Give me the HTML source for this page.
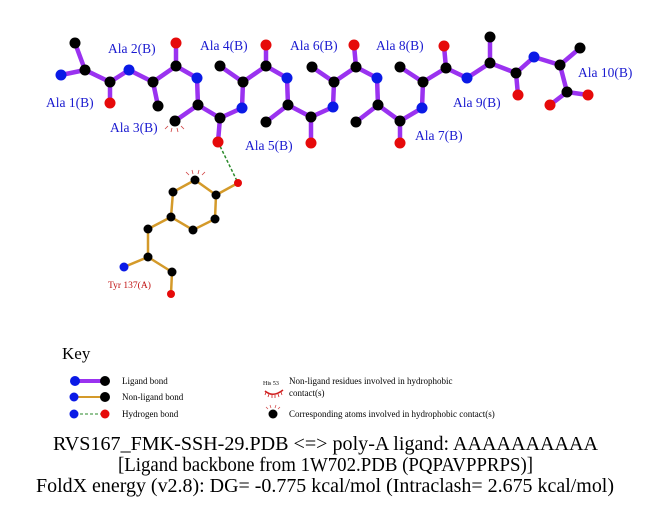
<!DOCTYPE html>
<html><head><meta charset="utf-8"><style>
body{margin:0;background:#fff;width:651px;height:511px;overflow:hidden}
svg{display:block}
.l{font-family:"Liberation Serif",serif;font-size:13.5px;fill:#1a1ad0}
.k{font-family:"Liberation Serif",serif;font-size:9px;fill:#000}
.t{font-family:"Liberation Serif",serif;font-size:19.5px;fill:#000}
</style></head><body>
<svg width="651" height="511" viewBox="0 0 651 511">
<g stroke="#9a32f0" stroke-width="4.5" stroke-linecap="round" fill="none">
<polyline points="61,75 85,70 110,82 129,70 153,82 176,66 197,78 198,105 220,118 242,108 243,82 266,66 287,78 288,105 311,117 333,107 334,82 356,67 377,78 378,105 400,121 422,108 423,82 446,68 467,78 490,63 516,73 534,57 560,65 567,92 588,95"/>
<line x1="85" y1="70" x2="75" y2="43"/><line x1="110" y1="82" x2="110" y2="103"/>
<line x1="153" y1="82" x2="158" y2="106"/><line x1="176" y1="66" x2="176" y2="43"/>
<line x1="198" y1="105" x2="175" y2="121"/><line x1="220" y1="118" x2="218" y2="142"/>
<line x1="243" y1="82" x2="220" y2="66"/><line x1="266" y1="66" x2="266" y2="45"/>
<line x1="288" y1="105" x2="266" y2="122"/><line x1="311" y1="117" x2="311" y2="143"/>
<line x1="334" y1="82" x2="312" y2="67"/><line x1="356" y1="67" x2="354" y2="45"/>
<line x1="378" y1="105" x2="356" y2="122"/><line x1="400" y1="121" x2="400" y2="143"/>
<line x1="423" y1="82" x2="400" y2="67"/><line x1="446" y1="68" x2="444" y2="46"/>
<line x1="490" y1="63" x2="490" y2="37"/><line x1="516" y1="73" x2="518" y2="95"/>
<line x1="560" y1="65" x2="580" y2="48"/><line x1="567" y1="92" x2="550" y2="105"/>
</g>
<g stroke="#d49a2a" stroke-width="2.5" fill="none">
<polyline points="238,183 216,195 215,219 193,230 171,217 173,192 195,180 216,195"/>
<polyline points="171,217 148,229 148,257 124,267"/>
<polyline points="148,257 172,272 171,294"/>
</g>
<line x1="218" y1="142" x2="238" y2="183" stroke="#2a8a2a" stroke-width="1.5" stroke-dasharray="3,2"/>
<g fill="#000">
<circle cx="85" cy="70" r="5.5"/><circle cx="75" cy="43" r="5.5"/><circle cx="110" cy="82" r="5.5"/>
<circle cx="153" cy="82" r="5.5"/><circle cx="158" cy="106" r="5.5"/><circle cx="176" cy="66" r="5.5"/>
<circle cx="198" cy="105" r="5.5"/><circle cx="175" cy="121" r="5.5"/><circle cx="220" cy="118" r="5.5"/>
<circle cx="243" cy="82" r="5.5"/><circle cx="220" cy="66" r="5.5"/><circle cx="266" cy="66" r="5.5"/>
<circle cx="288" cy="105" r="5.5"/><circle cx="266" cy="122" r="5.5"/><circle cx="311" cy="117" r="5.5"/>
<circle cx="334" cy="82" r="5.5"/><circle cx="312" cy="67" r="5.5"/><circle cx="356" cy="67" r="5.5"/>
<circle cx="378" cy="105" r="5.5"/><circle cx="356" cy="122" r="5.5"/><circle cx="400" cy="121" r="5.5"/>
<circle cx="423" cy="82" r="5.5"/><circle cx="400" cy="67" r="5.5"/><circle cx="446" cy="68" r="5.5"/>
<circle cx="490" cy="63" r="5.5"/><circle cx="490" cy="37" r="5.5"/><circle cx="516" cy="73" r="5.5"/>
<circle cx="560" cy="65" r="5.5"/><circle cx="580" cy="48" r="5.5"/><circle cx="567" cy="92" r="5.5"/>
<circle cx="216" cy="195" r="4.5"/><circle cx="215" cy="219" r="4.5"/><circle cx="193" cy="230" r="4.5"/>
<circle cx="171" cy="217" r="4.5"/><circle cx="173" cy="192" r="4.5"/><circle cx="195" cy="180" r="4.5"/>
<circle cx="148" cy="229" r="4.5"/><circle cx="148" cy="257" r="4.5"/><circle cx="172" cy="272" r="4.5"/>
</g>
<g fill="#0a1ae6">
<circle cx="61" cy="75" r="5.5"/><circle cx="129" cy="70" r="5.5"/><circle cx="197" cy="78" r="5.5"/>
<circle cx="242" cy="108" r="5.5"/><circle cx="287" cy="78" r="5.5"/><circle cx="333" cy="107" r="5.5"/>
<circle cx="377" cy="78" r="5.5"/><circle cx="422" cy="108" r="5.5"/><circle cx="467" cy="78" r="5.5"/>
<circle cx="534" cy="57" r="5.5"/><circle cx="124" cy="267" r="4.5"/>
</g>
<g fill="#e60a0a">
<circle cx="110" cy="103" r="5.5"/><circle cx="176" cy="43" r="5.5"/><circle cx="218" cy="142" r="5.5"/>
<circle cx="266" cy="45" r="5.5"/><circle cx="311" cy="143" r="5.5"/><circle cx="354" cy="45" r="5.5"/>
<circle cx="400" cy="143" r="5.5"/><circle cx="444" cy="46" r="5.5"/><circle cx="518" cy="95" r="5.5"/>
<circle cx="588" cy="95" r="5.5"/><circle cx="550" cy="105" r="5.5"/>
<circle cx="238" cy="183" r="4"/><circle cx="171" cy="294" r="4"/>
</g>
<g stroke="#d04040" stroke-width="0.8">
<path d="M168,126 l-3,3 M172,128 l-1,4 M177,128 l1,4 M181,126 l3,3"/>
<path d="M189,175 l-3,-3 M193,174 l-1,-4 M198,174 l1,-4 M202,175 l3,-3"/>
</g>
<g class="l">
<text x="46" y="107">Ala 1(B)</text><text x="108" y="53">Ala 2(B)</text>
<text x="110" y="132">Ala 3(B)</text><text x="200" y="50">Ala 4(B)</text>
<text x="245" y="150">Ala 5(B)</text><text x="290" y="50">Ala 6(B)</text>
<text x="376" y="50">Ala 8(B)</text><text x="415" y="140">Ala 7(B)</text>
<text x="453" y="107">Ala 9(B)</text><text x="578" y="77">Ala 10(B)</text>
</g>
<text x="108" y="288" style="font-family:'Liberation Serif',serif;font-size:9.5px;fill:#c01010">Tyr 137(A)</text>
<text x="62" y="359" style="font-family:'Liberation Serif',serif;font-size:17px">Key</text>
<line x1="75" y1="381" x2="105" y2="381" stroke="#9a32f0" stroke-width="4"/>
<line x1="75" y1="397" x2="105" y2="397" stroke="#d49a2a" stroke-width="2"/>
<line x1="75" y1="414" x2="105" y2="414" stroke="#2a8a2a" stroke-width="1" stroke-dasharray="3,2"/>
<circle cx="75" cy="381" r="5" fill="#0a1ae6"/><circle cx="105" cy="381" r="5" fill="#000"/>
<circle cx="74" cy="397" r="4.5" fill="#0a1ae6"/><circle cx="105" cy="397" r="5" fill="#000"/>
<circle cx="74" cy="414" r="4.5" fill="#0a1ae6"/><circle cx="105" cy="414" r="4.5" fill="#e60a0a"/>
<g class="k">
<text x="122" y="384">Ligand bond</text><text x="122" y="400">Non-ligand bond</text><text x="122" y="417">Hydrogen bond</text>
<text x="289" y="384">Non-ligand residues involved in hydrophobic</text><text x="289" y="396">contact(s)</text>
<text x="289" y="417">Corresponding atoms involved in hydrophobic contact(s)</text>
<text x="263" y="385" style="font-size:6px">His 53</text>
</g>
<path d="M265,391 Q273,398 283,390" stroke="#d02020" stroke-width="1.5" fill="none"/>
<path d="M266,392 l-1,3 M269,394 l-1,3 M272,395 l0,3 M275,395 l0,3 M278,394 l1,3 M281,392 l1,3" stroke="#d02020" stroke-width="0.8"/>
<circle cx="273" cy="414" r="4.5" fill="#000"/>
<path d="M268,409 l-2,-2 M271,408 l-1,-3 M275,408 l1,-3 M278,409 l2,-2" stroke="#d04040" stroke-width="0.7"/>
<g class="t">
<text x="53" y="450" textLength="545" lengthAdjust="spacingAndGlyphs">RVS167_FMK-SSH-29.PDB &lt;=&gt; poly-A ligand: AAAAAAAAAA</text>
<text x="118" y="471" textLength="415" lengthAdjust="spacingAndGlyphs">[Ligand backbone from 1W702.PDB (PQPAVPPRPS)]</text>
<text x="36" y="492" textLength="578" lengthAdjust="spacingAndGlyphs">FoldX energy (v2.8): DG= -0.775 kcal/mol (Intraclash= 2.675 kcal/mol)</text>
</g>
</svg>
</body></html>
